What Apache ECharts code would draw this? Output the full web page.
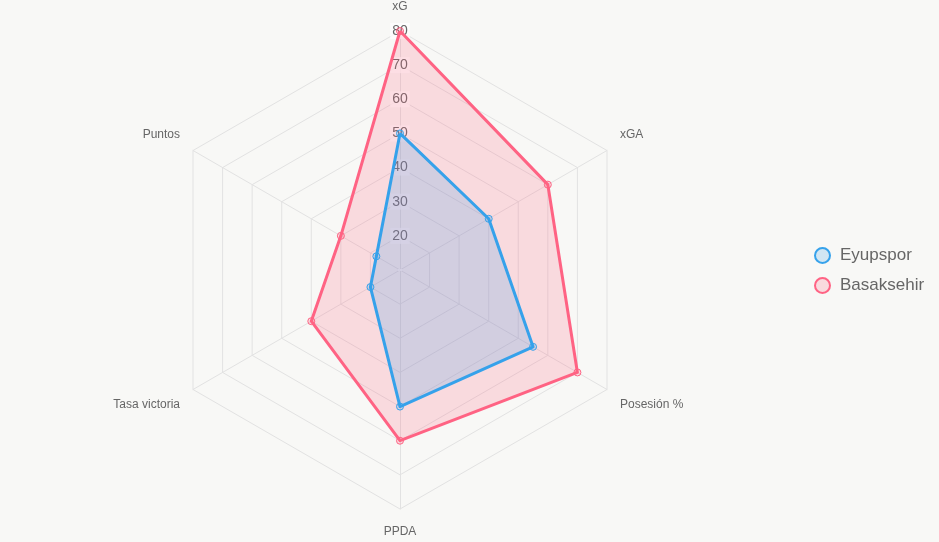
<!DOCTYPE html>
<html><head><meta charset="utf-8">
<script src="https://cdn.jsdelivr.net/npm/echarts@6/dist/echarts.min.js"></script>
<style>html,body{margin:0;padding:0;background:#f8f8f6;}#c{width:939px;height:542px;}</style>
</head><body><div id="c"></div>
<script>
const categories = ['xG', 'xGA', 'Posesión %', 'PPDA', 'Tasa victoria', 'Puntos'];
const eyupspor = [50, 40, 55, 50, 20, 18];
const basaksehir = [80, 60, 70, 60, 40, 30];
const tickLabels = [20, 30, 40, 50, 60, 70, 80];
const scaleMin = 10, scaleMax = 80;

// ECharts places indicators counterclockwise; reorder so they run clockwise like the reference
const order = [0, 5, 4, 3, 2, 1];
const indicators = order.map(i => ({ name: categories[i], min: scaleMin, max: scaleMax }));
const reorder = arr => order.map(i => arr[i]);
// label style per category position (top / upper sides / lower sides / bottom)
const nameStyle = ['top', 'up', 'down', 'bottom', 'down', 'up'];

const font = { color: '#666', fontSize: 12, fontFamily: 'Arial, Liberation Sans, sans-serif' };
const chart = echarts.init(document.getElementById('c'));
chart.setOption({
  backgroundColor: '#f8f8f6',
  animation: false,
  legend: {
    data: ['Eyupspor', 'Basaksehir'],
    orient: 'vertical',
    left: 809, top: 242,
    icon: 'circle', itemWidth: 15, itemHeight: 15, itemGap: 13,
    textStyle: { fontSize: 17, color: '#666', fontFamily: 'Arial, Liberation Sans, sans-serif', padding: [0, 0, 0, 5] }
  },
  radar: {
    center: [400, 270], radius: 239, startAngle: 90, splitNumber: 7,
    shape: 'polygon', indicator: indicators, nameGap: 15,
    axisName: {
      ...font,
      formatter: (name) => '{' + nameStyle[categories.indexOf(name)] + '|' + name + '}',
      rich: {
        top: { ...font, padding: [0, 0, 3, 0] },
        up: { ...font, padding: [0, 0, 16, 0] },
        down: { ...font, padding: [16, 0, 0, 0] },
        bottom: { ...font, padding: [2, 0, 0, 0] }
      }
    },
    splitLine: { lineStyle: { color: '#e2e2e2', width: 1 } },
    splitArea: { show: false },
    axisLine: { lineStyle: { color: '#e2e2e2', width: 1 } },
    axisTick: { show: false }, axisLabel: { show: false }
  },
  grid: { left: 400, width: 1, top: 31, height: 239 },
  xAxis: { type: 'value', show: false },
  yAxis: {
    type: 'value', min: scaleMin, max: scaleMax, interval: 10,
    axisLine: { show: false }, axisTick: { show: false }, splitLine: { show: false },
    axisLabel: {
      margin: 0, align: 'center', fontSize: 14, color: '#666',
      fontFamily: 'Arial, Liberation Sans, sans-serif',
      backgroundColor: 'rgba(255,255,255,0.75)', padding: [1, 2],
      formatter: v => tickLabels.includes(v) ? String(v) : ''
    }
  },
  series: [{
    type: 'radar',
    symbol: 'circle', symbolSize: 7,
    data: [
      {
        name: 'Basaksehir', value: reorder(basaksehir),
        lineStyle: { color: 'rgb(255,99,132)', width: 3 },
        itemStyle: { color: 'rgba(255,99,132,0.2)', borderColor: 'rgb(255,99,132)', borderWidth: 1 },
        areaStyle: { color: 'rgba(255,99,132,0.2)', opacity: 1 }
      },
      {
        name: 'Eyupspor', value: reorder(eyupspor),
        lineStyle: { color: 'rgb(54,162,235)', width: 3 },
        itemStyle: { color: 'rgba(54,162,235,0.2)', borderColor: 'rgb(54,162,235)', borderWidth: 1 },
        areaStyle: { color: 'rgba(54,162,235,0.2)', opacity: 1 }
      }
    ]
  }]
});
</script></body></html>
